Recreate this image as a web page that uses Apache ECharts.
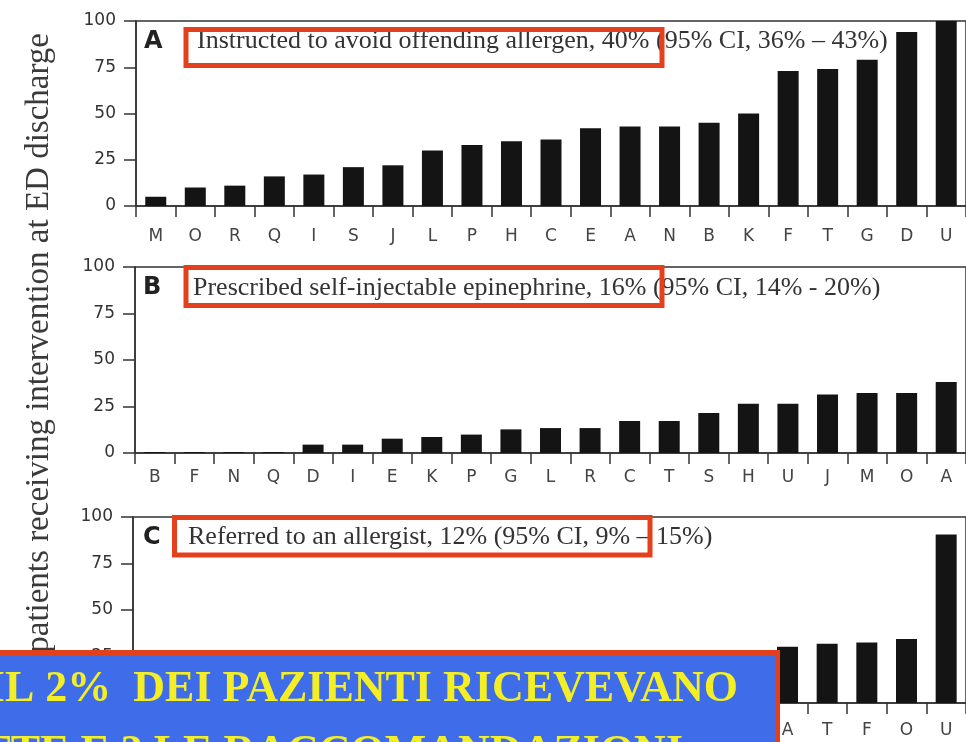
<!DOCTYPE html>
<html>
<head>
<meta charset="utf-8">
<script src="https://cdn.jsdelivr.net/npm/echarts@6/dist/echarts.min.js"></script>
<style>
  html, body { margin: 0; padding: 0; background: #fff; }
  #chart { width: 966px; height: 742px; }
</style>
</head>
<body>
<div id="chart"></div>
<script>
// Sites ordered by share of patients receiving each intervention (%)
const sitesA = ['M','O','R','Q','I','S','J','L','P','H','C','E','A','N','B','K','F','T','G','D','U'];
const valuesA = [5, 10, 11, 16, 17, 21, 22, 30, 33, 35, 36, 42, 43, 43, 45, 50, 73, 74, 79, 94, 100];

const sitesB = ['B','F','N','Q','D','I','E','K','P','G','L','R','C','T','S','H','U','J','M','O','A'];
const valuesB = [0.5, 0.5, 0.5, 0.5, 4.5, 4.5, 7.7, 8.6, 9.9, 12.7, 13.4, 13.4, 17.2, 17.2, 21.5, 26.5, 26.5, 31.4, 32.3, 32.3, 38.2];

const sitesC = ['Q','N','B','I','D','E','K','R','C','G','S','L','H','P','J','M','A','T','F','O','U'];
const valuesC = [0, 0, 0, 0, 1, 2, 3, 3, 4, 5, 6, 7, 8, 10, 12, 15, 30.3, 31.8, 32.5, 34.4, 90.6];

const yTicks = [0, 25, 50, 75, 100];

const panelTitles = [
  'Instructed to avoid offending allergen, 40% (95% CI, 36% \u2013 43%)',
  'Prescribed self-injectable epinephrine, 16% (95% CI, 14% - 20%)',
  'Referred to an allergist, 12% (95% CI, 9% \u2013 15%)'
];
const panelLetters = ['A', 'B', 'C'];
const yTitle = '% of patients receiving intervention at ED discharge';
const bannerLines = ['IL 2%  DEI PAZIENTI RICEVEVANO', 'TTE E 3 LE RACCOMANDAZIONI'];

const chart = echarts.init(document.getElementById('chart'), null, { renderer: 'canvas' });

const grids = [
  { left: 136, top: 21, width: 840, height: 185 },
  { left: 135, top: 267, width: 842, height: 186 },
  { left: 133, top: 517, width: 840, height: 186 }
];
const labelMargins = [22, 16, 19];
const axisColor = '#333';
const sans = 'DejaVu Sans';
const serif = 'Liberation Serif';

const cats = [sitesA, sitesB, sitesC];
const vals = [valuesA, valuesB, valuesC];

const xAxes = cats.map((c, i) => ({
  type: 'category',
  gridIndex: i,
  data: c,
  axisLine: { lineStyle: { color: axisColor, width: 1.5 } },
  axisTick: { show: true, length: 11, interval: 0, lineStyle: { color: axisColor, width: 1.5 } },
  axisLabel: { interval: 0, margin: labelMargins[i], fontSize: 17, fontFamily: sans, color: '#444' }
}));

const yAxes = cats.map((c, i) => ({
  type: 'value',
  gridIndex: i,
  min: yTicks[0],
  max: yTicks[yTicks.length - 1],
  interval: yTicks[1] - yTicks[0],
  splitLine: { show: false },
  axisLine: { show: true, lineStyle: { color: axisColor, width: 1.5 } },
  axisTick: { show: true, length: 12, lineStyle: { color: axisColor, width: 1.5 } },
  axisLabel: { margin: 20, fontSize: 17, fontFamily: sans, color: '#333' }
}));

const series = vals.map((v, i) => ({
  type: 'bar',
  xAxisIndex: i,
  yAxisIndex: i,
  data: v,
  barWidth: 21,
  itemStyle: { color: '#141414' },
  silent: true
}));

// Panel captions with their highlight frames
const titlePos = [
  { letterX: 144, textX: 197, y: 41.5, box: { x: 186, y: 29.5, width: 476, height: 36 } },
  { letterX: 143, textX: 193, y: 288, box: { x: 186, y: 267.5, width: 476, height: 38 } },
  { letterX: 143, textX: 188, y: 537.5, box: { x: 174.5, y: 517.5, width: 475.5, height: 37.5 } }
];

const graphics = [];
titlePos.forEach((p, i) => {
  graphics.push({
    type: 'text', z: 100, x: p.letterX, y: p.y,
    style: { text: panelLetters[i], fontFamily: sans, fontWeight: 'bold', fontSize: 24, fill: '#222',
             align: 'left', verticalAlign: 'middle' }
  });
  graphics.push({
    type: 'text', z: 100, x: p.textX, y: p.y,
    style: { text: panelTitles[i], fontFamily: serif, fontSize: 26, fill: '#333',
             align: 'left', verticalAlign: 'middle' }
  });
  graphics.push({
    type: 'rect', z: 101, shape: p.box,
    style: { fill: 'none', stroke: '#e5401d', lineWidth: 5 }
  });
});

// Shared y-axis title
graphics.push({
  type: 'text', z: 100, x: 39, y: 33, rotation: Math.PI / 2,
  style: { text: yTitle, fontFamily: serif, fontSize: 33, fill: '#3a3a3a',
           align: 'right', verticalAlign: 'middle' }
});

// Banner across the lower panel
graphics.push({
  type: 'rect', z: 110,
  shape: { x: -10, y: 652.5, width: 787.5, height: 120 },
  style: { fill: '#3f6ce8', stroke: '#e2401c', lineWidth: 5 }
});
graphics.push({
  type: 'text', z: 111, x: 738, y: 690,
  style: { text: bannerLines[0], fontFamily: serif, fontWeight: 'bold', fontSize: 44, fill: '#f3ef24',
           align: 'right', verticalAlign: 'middle' }
});
graphics.push({
  type: 'text', z: 111, x: 683, y: 754,
  style: { text: bannerLines[1], fontFamily: serif, fontWeight: 'bold', fontSize: 44, fill: '#f3ef24',
           align: 'right', verticalAlign: 'middle' }
});

chart.setOption({
  animation: false,
  backgroundColor: '#ffffff',
  grid: grids.map(g => Object.assign({ show: true, borderColor: axisColor, borderWidth: 1.5, backgroundColor: 'transparent', containLabel: false }, g)),
  xAxis: xAxes,
  yAxis: yAxes,
  series: series,
  graphic: { elements: graphics }
});
</script>
</body>
</html>
